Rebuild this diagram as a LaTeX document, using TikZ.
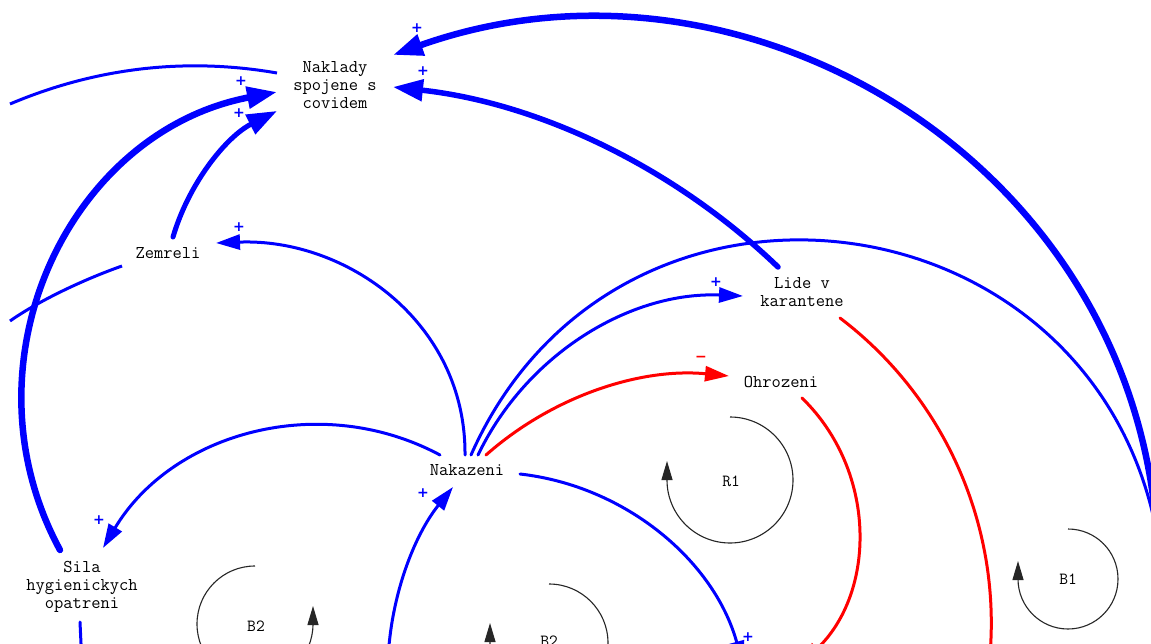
\documentclass[tikz,border=0pt]{standalone}
\usepackage{fontspec}
\newfontfamily\signfont{DejaVu Sans}
\usetikzlibrary{arrows.meta,calc}
\begin{document}
\begin{tikzpicture}[x=1pt,y=-1pt,
  var/.style={font=\fontsize{18}{18}\selectfont\ttfamily, align=center, inner sep=0pt, text=black},
  lnk/.style={draw=blue, line width=3pt, line cap=round},
  lnkred/.style={draw=red, line width=3pt, line cap=round},
  tipA/.style={-{Triangle[length=24pt,width=15pt]}},
  tipB/.style={-{Triangle[length=30pt,width=21pt]}},
  pol/.style={text=blue, font=\fontsize{14}{14}\selectfont\signfont\bfseries, inner sep=0pt},
  polred/.style={text=red, font=\fontsize{14}{14}\selectfont\signfont\bfseries, inner sep=0pt},
  loopline/.style={draw=black!85, line width=1.1pt, -{Triangle[length=19pt,width=11pt]}},
  looplbl/.style={font=\fontsize{17}{17}\selectfont\ttfamily, inner sep=0pt}
]
\fill[white] (0,0) rectangle (1151,644);
\useasboundingbox (0,0) rectangle (1151,644);

% variables
\node[var] (nakl) at (335,85) {Naklady\\spojene s\\covidem};
\node[var] (zem) at (168,253) {Zemreli};
\node[var] (lide) at (802,292) {Lide v\\karantene};
\node[var] (ohr) at (781,382) {Ohrozeni};
\node[var] (nak) at (467,470) {Nakazeni};
\node[var] (sila) at (82,587) {Sila\\hygienickych\\opatreni};

% off-picture ends
\coordinate (offR) at (1158,560);
\coordinate (offR2) at (1160,553);
\coordinate (offL1) at (10,104);
\coordinate (offL2) at (10,321);
\coordinate (offB1) at (743,665);
\coordinate (offB2) at (388,660);
\coordinate (offB3) at (800,665);
\coordinate (offB4) at (989,665);
\coordinate (offB5) at (82,665);

% thick connectors into Naklady
\draw[lnk, line width=6.5pt, tipB] (offR) .. controls (1149.4,170.4) and (750,-72) .. ($(nakl)+(58,-30)$);
\draw[lnk, line width=5.5pt, tipB] ($(lide)+(-24,-25)$) .. controls (673.1,166.3) and (537.5,102.9) .. ($(nakl)+(58,2)$);
\draw[lnk, line cap=butt] ($(nakl)+(-58,-12)$) .. controls (185,57) and (95,68) .. (offL1);
\draw[lnk, line width=6.5pt, tipB] ($(sila)+(-22,-37)$) .. controls (-41.3,363.3) and (68.5,131.9) .. ($(nakl)+(-58,7)$);
\draw[lnk, line width=5pt, tipB] ($(zem)+(5,-16)$) .. controls (188.9,182.8) and (226.6,136.5) .. ($(nakl)+(-58,26)$);

% other connectors
\draw[lnk, line cap=butt] ($(zem)+(-46,13)$) .. controls (85,279) and (40,300) .. (offL2);
\draw[lnk, tipA] ($(nak)+(-2,-15)$) .. controls (466,322.3) and (346,238) .. ($(zem)+(48,-10)$);
\draw[lnk, tipA] ($(nak)+(-27,-15)$) .. controls (320.9,391.2) and (172.5,432.1) .. ($(sila)+(21,-39)$);
\draw[lnk] ($(nak)+(4,-15)$) .. controls (618.8,121.9) and (1111,191.9) .. (offR2);
\draw[lnk, tipA] ($(nak)+(11,-15)$) .. controls (526.8,353.6) and (630.6,291.3) .. ($(lide)+(-59,4)$);
\draw[lnkred, tipA] ($(nak)+(19,-15)$) .. controls (552.6,396.1) and (640.5,367.5) .. ($(ohr)+(-52,-6)$);
\draw[lnk, tipA] ($(nak)+(53,4)$) .. controls (626.5,486.1) and (714.5,561.6) .. (offB1);
\draw[lnk, tipA] (offB2) .. controls (390.8,596.9) and (413.5,536.3) .. ($(nak)+(-14,17)$);
\draw[lnkred, tipA] ($(ohr)+(21,16)$) .. controls (877.3,471.3) and (876.2,592.6) .. (offB3);
\draw[lnkred] ($(lide)+(38,26)$) .. controls (947.1,399.4) and (1003.7,531.2) .. (offB4);
\draw[lnk] ($(sila)+(-2,35)$) -- (offB5);

% polarities
\node[pol] (p1) at (417,28) {+};
\node[pol] (p2) at (423,71) {+};
\node[pol] (p3) at (241,81) {+};
\node[pol] (p4) at (239,113) {+};
\node[pol] (p5) at (239,227) {+};
\node[pol] (p6) at (99,520) {+};
\node[pol] (p7) at (716,282) {+};
\node[polred] (p8) at (701,359) {−};
\node[pol] (p9) at (423,493) {+};
\node[pol] (p10) at (748,637) {+};

% loop markers
\node[looplbl] (r1) at (731,481) {R1};
\draw[loopline] (730,417) arc[start angle=90, end angle=-180, radius=63pt] -- ++(0,-19);
\node[looplbl] (b1) at (1068,579) {B1};
\draw[loopline] (1068,529) arc[start angle=90, end angle=-180, radius=50pt] -- ++(0,-18);
\node[looplbl] (b2) at (256,626) {B2};
\draw[loopline] (255,566) arc[start angle=90, end angle=360, radius=58pt] -- ++(0,-18);
\node[looplbl] (b3) at (549,641) {B2};
\draw[loopline] (549,584) arc[start angle=90, end angle=-180, radius=59pt] -- ++(0,-20);
\end{tikzpicture}
\end{document}
